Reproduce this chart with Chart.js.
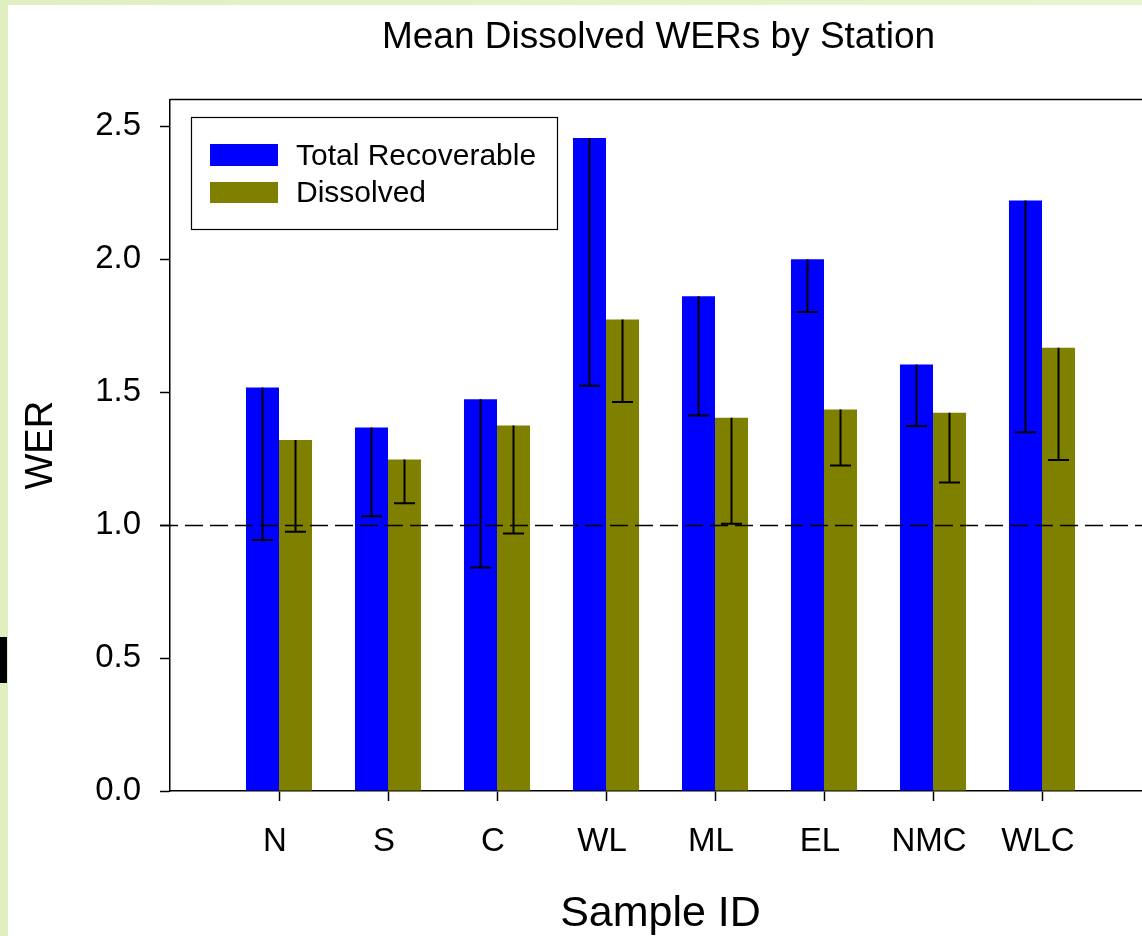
<!DOCTYPE html>
<html>
<head>
<meta charset="utf-8">
<script src="https://cdn.jsdelivr.net/npm/chart.js@4.4.1/dist/chart.umd.min.js"></script>
<style>
  html, body { margin: 0; padding: 0; width: 1142px; height: 936px; overflow: hidden;
    background: linear-gradient(90deg, #e0efc0 0%, #e6f3c9 60%, #e9f5cd 100%); }
  #panel { position: absolute; left: 8px; top: 5px; width: 1160px; height: 945px; background: #ffffff; }
  #c { display: block; }
  #mark { position: absolute; left: 0; top: 637px; width: 7px; height: 46px; background: #000; }
</style>
</head>
<body>
<div id="panel"><canvas id="c" width="1160" height="945"></canvas></div>
<div id="mark"></div>
<script>
// ---- data ----
const categories = ['N', 'S', 'C', 'WL', 'ML', 'EL', 'NMC', 'WLC'];
const totalRecoverable = [1.517, 1.367, 1.473, 2.455, 1.860, 1.999, 1.604, 2.220];
const totalRecoverableLow = [0.944, 1.033, 0.840, 1.524, 1.412, 1.801, 1.372, 1.349];
const dissolved = [1.320, 1.246, 1.374, 1.773, 1.403, 1.434, 1.422, 1.667];
const dissolvedLow = [0.975, 1.082, 0.968, 1.463, 1.005, 1.224, 1.160, 1.245];
const yTicks = [0.0, 0.5, 1.0, 1.5, 2.0, 2.5];
const referenceLine = 1.0;
const seriesNames = ['Total Recoverable', 'Dissolved'];
const chartTitle = 'Mean Dissolved WERs by Station';

// padded category labels so the axis extends one slot on each side
const labels = [''].concat(categories, ['']);
const pad = arr => [null].concat(arr, [null]);

const FONT = "'Liberation Sans', Arial, Helvetica, sans-serif";

const errorBars = {
  id: 'errorBars',
  afterDatasetsDraw(chart) {
    const ctx = chart.ctx;
    const y = chart.scales.y;
    const area = chart.chartArea;
    // dashed reference line
    ctx.save();
    ctx.strokeStyle = '#000';
    ctx.lineWidth = 1.5;
    ctx.setLineDash([18, 7]);
    const yr = Math.round(y.getPixelForValue(referenceLine)) + 0.5;
    ctx.beginPath();
    ctx.moveTo(area.left - 10, yr);
    ctx.lineTo(area.right, yr);
    ctx.stroke();
    ctx.restore();
    // lower error bars
    chart.data.datasets.forEach((ds, di) => {
      const meta = chart.getDatasetMeta(di);
      meta.data.forEach((el, i) => {
        const lo = ds.lower[i];
        if (lo == null || ds.data[i] == null) return;
        const yb = y.getPixelForValue(lo);
        ctx.save();
        ctx.strokeStyle = '#000';
        ctx.lineWidth = 2;
        ctx.beginPath();
        ctx.moveTo(el.x, el.y);
        ctx.lineTo(el.x, yb);
        ctx.moveTo(el.x - 10.5, yb);
        ctx.lineTo(el.x + 10.5, yb);
        ctx.stroke();
        ctx.restore();
      });
    });
  }
};

const boxLegend = {
  id: 'boxLegend',
  afterDraw(chart) {
    const ctx = chart.ctx;
    ctx.save();
    ctx.fillStyle = '#fff';
    ctx.fillRect(183, 112, 366, 112);
    ctx.strokeStyle = '#000';
    ctx.lineWidth = 1.2;
    ctx.strokeRect(183.5, 112.5, 366, 112);
    const rows = [{ y0: 139, y1: 161, base: 160 }, { y0: 177, y1: 198, base: 197 }];
    chart.data.datasets.forEach((ds, i) => {
      const r = rows[i];
      ctx.fillStyle = ds.backgroundColor;
      ctx.fillRect(202, r.y0, 68, r.y1 - r.y0);
      ctx.fillStyle = '#000';
      ctx.font = '30px ' + FONT;
      ctx.textBaseline = 'alphabetic';
      ctx.textAlign = 'left';
      ctx.fillText(ds.label, 288, r.base);
    });
    ctx.restore();
  }
};

const frameAndTitle = {
  id: 'frameAndTitle',
  afterDraw(chart) {
    const ctx = chart.ctx, a = chart.chartArea;
    ctx.save();
    ctx.strokeStyle = '#000';
    ctx.lineWidth = 1.5;
    ctx.beginPath();
    ctx.moveTo(a.left, a.top);
    ctx.lineTo(a.right + 20, a.top);
    ctx.stroke();
    ctx.fillStyle = '#000';
    ctx.font = '37px ' + FONT;
    ctx.textAlign = 'center';
    ctx.textBaseline = 'middle';
    ctx.fillText(chartTitle, (a.left + a.right) / 2 - 2, 33);
    ctx.restore();
  }
};

new Chart(document.getElementById('c'), {
  type: 'bar',
  data: {
    labels: labels,
    datasets: [
      { label: seriesNames[0], data: pad(totalRecoverable), lower: pad(totalRecoverableLow),
        backgroundColor: '#0000ff', borderWidth: 0 },
      { label: seriesNames[1], data: pad(dissolved), lower: pad(dissolvedLow),
        backgroundColor: '#808000', borderWidth: 0 }
    ]
  },
  options: {
    responsive: false,
    animation: false,
    devicePixelRatio: 1,
    layout: { padding: { left: 0, right: 17, top: 94.5, bottom: 0 } },
    categoryPercentage: 0.606,
    barPercentage: 1.0,
    plugins: {
      legend: { display: false },
      tooltip: { enabled: false },
      title: { display: false }
    },
    scales: {
      x: {
        type: 'category',
        offset: false,
        afterBuildTicks(scale) {
          scale.ticks = scale.ticks.filter(t => labels[t.value] !== '');
        },
        afterFit(scale) { scale.height = 159; },
        grid: { offset: false, drawOnChartArea: false, drawTicks: true, tickLength: 10, tickColor: '#000', tickWidth: 1.5 },
        border: { display: true, color: '#000', width: 1.5 },
        ticks: { color: '#000', font: { family: FONT, size: 33 }, padding: 21, labelOffset: -4, maxRotation: 0, autoSkip: false },
        title: { display: true, text: 'Sample ID', color: '#000', font: { family: FONT, size: 43 }, padding: { top: 0, bottom: 10 } }
      },
      y: {
        min: 0,
        max: 2.6,
        afterBuildTicks(scale) {
          scale.ticks = yTicks.map(v => ({ value: v }));
        },
        afterFit(scale) { scale.width = 162; },
        grid: { drawOnChartArea: false, drawTicks: true, tickLength: 10, tickColor: '#000', tickWidth: 1.5 },
        border: { display: true, color: '#000', width: 1.5 },
        ticks: { color: '#000', font: { family: FONT, size: 33 }, padding: 19,
                 callback: v => Number(v).toFixed(1) },
        title: { display: true, text: 'WER', color: '#000', font: { family: FONT, size: 38 }, padding: { top: 11, bottom: 0 } }
      }
    }
  },
  plugins: [errorBars, boxLegend, frameAndTitle]
});
</script>
</body>
</html>
